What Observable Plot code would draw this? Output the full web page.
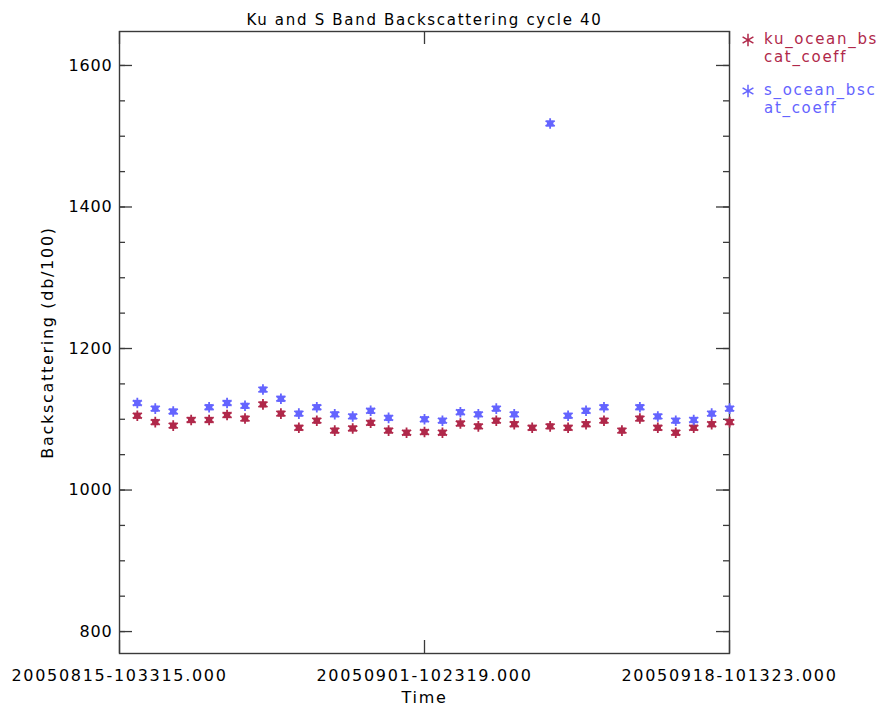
<!DOCTYPE html>
<html>
<head>
<meta charset="utf-8">
<script src="https://cdn.jsdelivr.net/npm/d3@7"></script>
<script src="https://cdn.jsdelivr.net/npm/@observablehq/plot@0.6"></script>
<style>
  html, body { margin: 0; padding: 0; background: #fff; }
  #wrap { position: relative; width: 883px; height: 709px; overflow: hidden; }
  .lg { position: absolute; font-family: "DejaVu Sans", sans-serif; font-size: 15px; letter-spacing: 1.7px; line-height: 18px; white-space: nowrap; }
  .lg svg { position: absolute; left: -24px; top: 2px; }
</style>
</head>
<body>
<div id="wrap"></div>
<script>
const title = "Ku and S Band Backscattering cycle 40";
const xLabel = "Time";
const yLabel = "Backscattering (db/100)";
const seriesNames = ["ku_ocean_bscat_coeff", "s_ocean_bscat_coeff"];
const seriesColors = ["#b0284a", "#6464ff"];

const xTickTimes = ["2005-08-15T10:33:15Z", "2005-09-01T10:23:19Z", "2005-09-18T10:13:23Z"];
const xTickLabels = ["20050815-103315.000", "20050901-102319.000", "20050918-101323.000"];
const yMajorTicks = [800, 1000, 1200, 1400, 1600];
const yMinorTicks = [800, 850, 900, 950, 1000, 1050, 1100, 1150, 1200, 1250, 1300, 1350, 1400, 1450, 1500, 1550, 1600];

const dates = [
  "2005-08-16", "2005-08-17", "2005-08-18", "2005-08-19", "2005-08-20", "2005-08-21",
  "2005-08-22", "2005-08-23", "2005-08-24", "2005-08-25", "2005-08-26", "2005-08-27",
  "2005-08-28", "2005-08-29", "2005-08-30", "2005-08-31", "2005-09-01", "2005-09-02",
  "2005-09-03", "2005-09-04", "2005-09-05", "2005-09-06", "2005-09-07", "2005-09-08",
  "2005-09-09", "2005-09-10", "2005-09-11", "2005-09-12", "2005-09-13", "2005-09-14",
  "2005-09-15", "2005-09-16", "2005-09-17", "2005-09-18"
];
const kuValues = [1105, 1096, 1091, 1099, 1099, 1106, 1101, 1121, 1108, 1088, 1098, 1084,
  1087, 1095, 1084, 1081, 1082, 1081, 1094, 1090, 1098, 1093, 1088, 1090,
  1088, 1093, 1098, 1084, 1101, 1088, 1081, 1088, 1093, 1096];
const sValues = [1123, 1115, 1111, null, 1117, 1123, 1119, 1142, 1129, 1108, 1117, 1107,
  1104, 1112, 1102, null, 1100, 1098, 1110, 1107, 1115, 1107, null, 1518,
  1105, 1112, 1117, null, 1117, 1104, 1098, 1099, 1108, 1115];

const rows = dates.map((d, i) => ({date: new Date(d + "T10:23:00Z"), ku: kuValues[i], s: sValues[i]}));
const xTicks = xTickTimes.map((t, i) => ({date: new Date(t), label: xTickLabels[i]}));

const W = 883, H = 709;
const mL = 119, mR = 154, mT = 31, mB = 56;
const pw = W - mL - mR, ph = H - mT - mB;
const axisColor = "#3a3a3a";

const chart = Plot.plot({
  width: W, height: H,
  marginLeft: mL, marginRight: mR, marginTop: mT, marginBottom: mB,
  style: {fontFamily: "DejaVu Sans, sans-serif", fontSize: "16px", color: "#000", background: "#fff", overflow: "visible", letterSpacing: "1.7px"},
  x: {type: "utc", domain: [xTicks[0].date, xTicks[2].date], axis: null},
  y: {domain: [769, 1648], axis: null},
  marks: [
    Plot.tickY(yMajorTicks, {y: d => d, insetRight: pw - 13, stroke: axisColor, strokeWidth: 1.3}),
    Plot.tickY(yMajorTicks, {y: d => d, insetLeft: pw - 13, stroke: axisColor, strokeWidth: 1.3}),
    Plot.tickY(yMinorTicks, {y: d => d, insetRight: pw - 6, stroke: axisColor, strokeWidth: 1.3}),
    Plot.tickY(yMinorTicks, {y: d => d, insetLeft: pw - 6, stroke: axisColor, strokeWidth: 1.3}),
    Plot.tickX(xTicks, {x: "date", insetTop: ph - 13, stroke: axisColor, strokeWidth: 1.3}),
    Plot.tickX(xTicks, {x: "date", insetBottom: ph - 13, stroke: axisColor, strokeWidth: 1.3}),
    Plot.frame({stroke: axisColor, strokeWidth: 1.4}),
    Plot.text(yMajorTicks, {y: d => d, text: d => String(d), frameAnchor: "left", textAnchor: "end", dx: -7, fontSize: 16}),
    Plot.text(xTicks, {x: "date", text: "label", frameAnchor: "bottom", textAnchor: "middle", dy: 27, fontSize: 16}),
    Plot.text([xLabel], {frameAnchor: "bottom", dy: 49, fontSize: 16}),
    Plot.text([yLabel], {frameAnchor: "left", textAnchor: "middle", dx: -72, rotate: -90, fontSize: 16}),
    Plot.text([title], {frameAnchor: "top", dy: -17, fontSize: 15}),
    Plot.dot(rows, {x: "date", y: "ku", symbol: "square", r: 3.6, fill: seriesColors[0]}),
    Plot.dot(rows, {x: "date", y: "ku", symbol: "asterisk", r: 5, stroke: seriesColors[0], strokeWidth: 1.8}),
    Plot.dot(rows, {x: "date", y: "s", symbol: "square", r: 3.6, fill: seriesColors[1]}),
    Plot.dot(rows, {x: "date", y: "s", symbol: "asterisk", r: 5, stroke: seriesColors[1], strokeWidth: 1.8})
  ]
});

const wrap = document.getElementById("wrap");
wrap.appendChild(chart);

d3.select(chart).selectAll("text").filter(function() {
  return yMajorTicks.map(String).includes(this.textContent);
}).style("letter-spacing", "0.8px");

const star = d3.symbol(d3.symbolAsterisk, 110)();
const legendItems = [
  {lines: ["ku_ocean_bs", "cat_coeff"], color: seriesColors[0], left: 764, top: 30},
  {lines: ["s_ocean_bsc", "at_coeff"], color: seriesColors[1], left: 764, top: 81}
];
legendItems.forEach(it => {
  const div = document.createElement("div");
  div.className = "lg";
  div.style.left = it.left + "px";
  div.style.top = it.top + "px";
  div.style.color = it.color;
  div.innerHTML = `<svg width="16" height="16" viewBox="-8 -8 16 16"><path d="${star}" stroke="${it.color}" stroke-width="1.5" fill="none"/></svg>` +
    it.lines.map(l => `<div>${l}</div>`).join("");
  wrap.appendChild(div);
});
</script>
</body>
</html>
